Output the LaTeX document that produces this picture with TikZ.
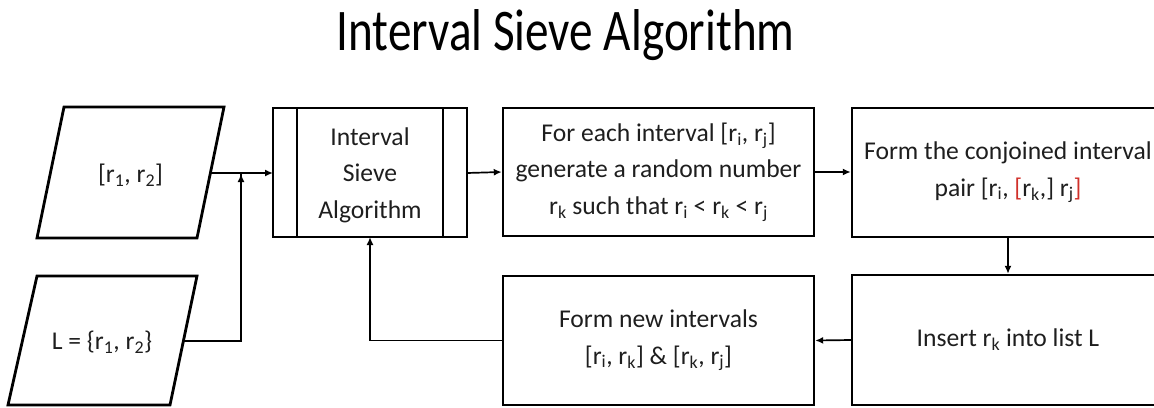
\documentclass[tikz,border=0pt]{standalone}
\usepackage{fontspec}
\setmainfont{Carlito}
\usetikzlibrary{arrows.meta,calc}
\newcommand{\sbs}[1]{\textsubscript{#1}}
\definecolor{redtxt}{HTML}{D0302A}
\definecolor{txtc}{HTML}{1E1E1E}
\begin{document}
\begin{tikzpicture}[x=1pt,y=-1pt,
  boxstyle/.style={draw,line width=2.4pt},
  txt/.style={align=center,font=\fontsize{25.6}{36.5}\selectfont,inner sep=0pt,text=txtc},
  conn/.style={line width=1.7pt,-{Latex[length=8pt,width=7pt]}},
  plain/.style={line width=1.7pt}]
\clip (0,0) rectangle (1154,407);
% title
\node[font=\fontsize{59}{60}\selectfont,anchor=base,inner sep=0pt] (title) at (565.5,50) {\scalebox{0.8}[1]{Interval Sieve Algorithm}};
% parallelograms
\draw[boxstyle,line width=2.8pt,line join=miter] (37,238) -- (197,238) -- (224,107) -- (64,107) -- cycle;
\node[txt] (p1) at (130.5,175) {[r\sbs{1}, r\sbs{2}]};
\draw[boxstyle,line width=2.8pt,line join=miter] (8,405) -- (170,405) -- (197,276) -- (37,276) -- cycle;
\node[txt] (p2) at (102,342) {L = \{r\sbs{1}, r\sbs{2}\}};
\coordinate (p1r) at (210.4,173);
\coordinate (p2r) at (183.4,341);
\coordinate (jn) at (241,173);
% sieve box
\draw[boxstyle] (273,108) rectangle (467,237);
\draw[boxstyle] (297,108) -- (297,237);
\draw[boxstyle] (443,108) -- (443,237);
\node[txt] (sieve) at (370,175) {Interval\\Sieve\\Algorithm};
\coordinate (sl) at (273,173);
\coordinate (sr) at (467,173);
\coordinate (sb) at (370,237);
% box 3
\node[boxstyle,txt,minimum width=311pt,minimum height=128pt] (gen) at (658.5,172) {For each interval [r\sbs{i}, r\sbs{j}]\\generate a random number\\r\sbs{k} such that r\sbs{i} < r\sbs{k} < r\sbs{j}};
% box 4
\node[boxstyle,txt,minimum width=312pt,minimum height=129pt] (form) at (1008,172.5) {Form the conjoined interval\\pair [r\sbs{i}, \textcolor{redtxt}{[}r\sbs{k},] r\sbs{j}\textcolor{redtxt}{]}};
% box 6
\node[boxstyle,txt,minimum width=312pt,minimum height=130pt] (ins) at (1008,340) {Insert r\sbs{k} into list L};
% box 5
\node[boxstyle,txt,minimum width=311pt,minimum height=129pt] (new) at (658.5,340.5) {Form new intervals\\{}[r\sbs{i}, r\sbs{k}] \& [r\sbs{k}, r\sbs{j}]};
% connectors
\draw[conn] (p1r) -- (sl);
\draw[plain] (p2r) -| (jn);
\draw[conn] (p2r -| jn) -- ($(jn)+(0,1)$);
\draw[conn] (sr) -- (gen.west);
\draw[conn] (gen.east) -- (form.west |- gen.east);
\draw[conn] (form.south) -- (ins.north);
\draw[conn] (ins.west) -- (new.east);
\draw[conn] (new.west) -| (sb);
\end{tikzpicture}
\end{document}
